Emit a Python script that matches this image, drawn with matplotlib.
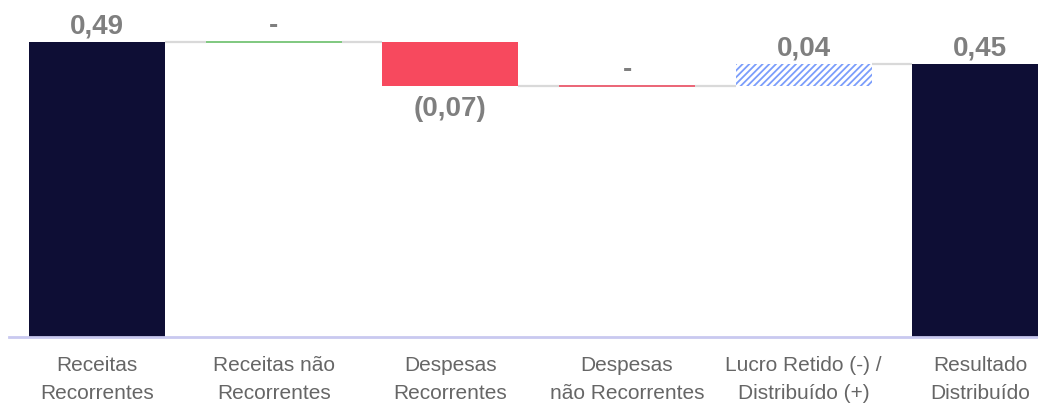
import numpy as np
import matplotlib
matplotlib.use("Agg")
import matplotlib.pyplot as plt

# waterfall data (R$ per quota)
categories = ["Receitas\nRecorrentes", "Receitas não\nRecorrentes", "Despesas\nRecorrentes",
              "Despesas\nnão Recorrentes", "Lucro Retido (-) /\nDistribuído (+)", "Resultado\nDistribuído"]
steps = [0.49, 0.0, -0.073, 0.0, 0.036]
total = 0.453
value_labels = ["0,49", "-", "(0,07)", "-", "0,04", "0,45"]

plt.rcParams['font.family'] = ['Liberation Sans', 'DejaVu Sans']
plt.rcParams['hatch.linewidth'] = 1.3

navy = "#0e0e35"
red = "#f7495e"
blue = "#7b9dfb"
grey_line = "#d9d9d9"
label_grey = "#7f7f7f"

fig = plt.figure(figsize=(10.38, 4.04), dpi=100)
ax = fig.add_axes([8.7 / 1038, 67 / 404, 1060 / 1038, 301 / 404])

width = 0.77
x = np.arange(len(categories))

# cumulative levels
starts = np.concatenate([[0], np.cumsum(steps)[:-1]])
ends = np.cumsum(steps)

for i, (s, e, v) in enumerate(zip(starts, ends, steps)):
    if i == 0:
        ax.bar(x[i], v, width, color=navy, zorder=2)
    elif v == 0:
        col = "#6abf69" if i == 1 else "#e84a5f"
        ax.hlines(e, x[i] - width / 2, x[i] + width / 2, color=col, lw=1.2, zorder=2)
    elif v < 0:
        ax.bar(x[i], v, width, bottom=s, color=red, zorder=2)
    else:
        ax.bar(x[i], v, width, bottom=s, color="white", edgecolor=blue,
               hatch="/////", linewidth=0, zorder=2)

ax.bar(x[-1], total, width, color=navy, zorder=2)

# connectors between bars
levels = list(ends)
for i in range(len(categories) - 1):
    ax.hlines(levels[i], x[i] + width / 2, x[i + 1] - width / 2, color=grey_line, lw=1.6, zorder=1)

# value labels
tops = [max(s, e) for s, e in zip(starts, ends)] + [total]
bottoms = [min(s, e) for s, e in zip(starts, ends)] + [0]
all_steps = steps + [total]
for i, lab in enumerate(value_labels):
    if all_steps[i] < 0:
        ax.annotate(lab, (x[i], bottoms[i]), xytext=(0, -7), textcoords="offset points",
                    ha="center", va="top", fontsize=20, fontweight="bold", color=label_grey)
    else:
        ax.annotate(lab, (x[i], tops[i]), xytext=(0, 2), textcoords="offset points",
                    ha="center", va="bottom", fontsize=20, fontweight="bold", color=label_grey)

ax.set_xlim(-0.5, len(categories) - 0.5)
ax.set_ylim(0, 0.5)
ax.set_xticks(x)
ax.set_xticklabels(categories, fontsize=15, color="#666666", linespacing=1.6)
ax.tick_params(axis="x", length=0, pad=14)
ax.set_yticks([])
for side in ["top", "right", "left"]:
    ax.spines[side].set_visible(False)
ax.spines["bottom"].set_color("#c9c9f0")
ax.spines["bottom"].set_linewidth(2)

fig.savefig("out.png", dpi=100)
